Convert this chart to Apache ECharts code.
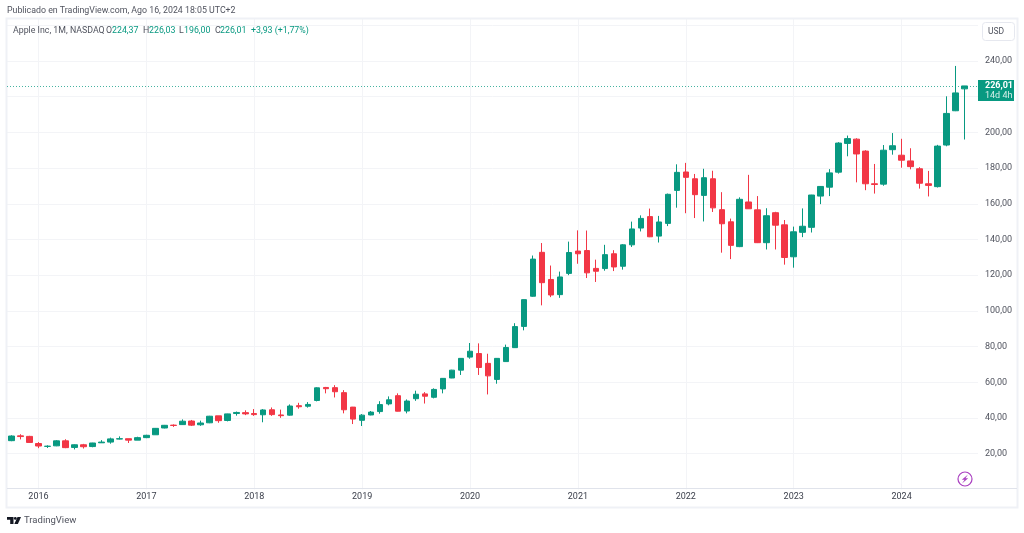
<!DOCTYPE html>
<html>
<head>
<meta charset="utf-8">
<title>Apple Inc, 1M, NASDAQ</title>
<script src="https://cdn.jsdelivr.net/npm/echarts@6/dist/echarts.min.js"></script>
<style>
html,body{margin:0;padding:0;background:#fff;}
#main{width:1024px;height:533px;}
</style>
</head>
<body>
<div id="main"></div>
<script>
var fontName = 'Roboto,sans-serif';
var upColor = '#089981';
var downColor = '#F23645';
// month, open, high, low, close
var rows = [
    ['2015-10',27.3,30.3,27.0,29.9],['2015-11',30.0,30.9,28.0,29.6],['2015-12',29.7,30.0,26.2,26.3],
    ['2016-01',25.7,26.5,23.1,24.3],['2016-02',24.1,24.7,23.2,24.2],['2016-03',24.4,27.6,24.2,27.2],
    ['2016-04',27.2,28.1,23.1,23.4],['2016-05',23.5,25.2,22.4,25.0],['2016-06',25.0,25.5,22.9,23.9],
    ['2016-07',24.0,26.1,23.6,26.0],['2016-08',26.1,27.6,26.0,26.5],['2016-09',26.5,29.0,25.6,28.3],
    ['2016-10',28.2,29.7,28.0,28.4],['2016-11',28.4,28.4,26.0,27.6],['2016-12',27.6,29.5,27.6,29.0],
    ['2017-01',29.0,30.6,28.7,30.3],['2017-02',30.6,34.4,30.6,34.2],['2017-03',34.4,36.1,34.2,35.9],
    ['2017-04',36.0,36.4,35.0,35.8],['2017-05',36.3,39.2,36.1,38.2],['2017-06',38.3,38.9,35.5,36.0],
    ['2017-07',36.2,38.5,35.6,37.2],['2017-08',37.3,41.2,37.1,41.0],['2017-09',41.2,41.2,37.3,38.5],
    ['2017-10',38.6,42.4,38.1,42.3],['2017-11',42.5,43.6,41.3,43.1],['2017-12',43.0,44.3,41.6,42.3],
    ['2018-01',42.5,45.0,41.2,41.9],['2018-02',41.8,45.0,37.6,44.5],['2018-03',44.6,45.9,41.2,41.9],
    ['2018-04',41.7,44.7,40.1,41.3],['2018-05',41.6,47.6,41.3,46.7],['2018-06',46.9,48.5,45.2,46.3],
    ['2018-07',46.6,48.9,45.8,47.6],['2018-08',49.8,57.2,49.3,56.9],['2018-09',57.1,57.4,53.8,56.4],
    ['2018-10',57.0,58.4,51.5,54.7],['2018-11',54.2,55.6,42.6,44.6],['2018-12',46.1,46.2,36.6,39.4],
    ['2019-01',38.7,42.2,35.5,41.6],['2019-02',41.7,43.9,41.5,43.3],['2019-03',43.6,49.4,42.4,47.5],
    ['2019-04',47.9,52.1,47.1,50.2],['2019-05',52.5,53.8,43.7,43.8],['2019-06',43.9,50.4,42.6,49.5],
    ['2019-07',50.8,55.3,49.6,53.3],['2019-08',53.5,54.5,48.1,52.2],['2019-09',51.6,56.6,51.0,56.0],
    ['2019-10',56.3,62.4,53.8,62.2],['2019-11',62.4,67.0,62.3,66.8],['2019-12',66.8,73.5,64.1,73.4],
    ['2020-01',74.1,82.0,73.2,77.4],['2020-02',76.1,81.8,64.1,68.3],['2020-03',70.6,76.0,53.2,63.6],
    ['2020-04',61.6,73.6,59.2,73.4],['2020-05',71.6,81.1,71.5,79.5],['2020-06',79.4,93.1,79.3,91.2],
    ['2020-07',91.3,106.4,89.1,106.3],['2020-08',108.2,131.0,107.9,129.0],['2020-09',132.8,138.0,103.1,115.8],
    ['2020-10',117.6,125.4,107.7,108.9],['2020-11',109.1,122.0,107.3,119.0],['2020-12',121.0,138.8,120.0,132.7],
    ['2021-01',133.5,145.1,126.4,132.0],['2021-02',133.8,145.0,118.4,121.3],['2021-03',123.8,128.7,116.2,122.2],
    ['2021-04',123.7,137.0,122.5,131.5],['2021-05',132.0,134.0,122.3,124.6],['2021-06',125.0,137.4,123.1,137.0],
    ['2021-07',137.0,150.0,135.8,145.9],['2021-08',146.4,153.5,144.5,151.8],['2021-09',152.8,157.3,141.3,141.5],
    ['2021-10',141.9,153.2,138.3,149.8],['2021-11',149.0,165.7,147.5,165.3],['2021-12',167.5,182.1,157.8,177.6],
    ['2022-01',177.8,182.9,154.7,174.8],['2022-02',174.0,176.7,152.0,165.1],['2022-03',164.7,179.6,150.1,174.6],
    ['2022-04',174.0,178.5,155.4,157.7],['2022-05',156.7,166.5,132.6,148.8],['2022-06',149.9,151.7,129.0,136.7],
    ['2022-07',136.0,163.6,135.7,162.5],['2022-08',161.0,176.2,157.1,157.2],['2022-09',156.6,164.3,138.0,138.2],
    ['2022-10',138.2,157.5,134.4,153.3],['2022-11',155.0,155.5,134.4,148.0],['2022-12',148.2,150.9,125.9,129.9],
    ['2023-01',130.3,147.2,124.2,144.3],['2023-02',144.0,157.4,141.3,147.4],['2023-03',146.8,165.0,143.9,164.9],
    ['2023-04',164.3,169.9,159.8,169.7],['2023-05',169.3,179.4,164.3,177.3],['2023-06',177.7,194.5,176.9,194.0],
    ['2023-07',193.8,198.2,186.6,196.5],['2023-08',196.2,196.7,172.0,187.9],['2023-09',189.5,190.0,167.6,171.2],
    ['2023-10',171.2,182.3,165.7,170.8],['2023-11',171.0,192.9,170.1,190.0],['2023-12',190.3,199.6,187.5,192.5],
    ['2024-01',187.2,196.4,180.2,184.4],['2024-02',184.0,191.1,179.3,180.8],['2024-03',179.6,180.5,168.5,171.5],
    ['2024-04',171.2,178.4,164.1,170.3],['2024-05',169.6,193.0,169.1,192.3],['2024-06',192.9,220.2,192.2,210.6],
    ['2024-07',212.1,237.2,211.9,222.1],['2024-08',224.37,226.03,196.0,226.01]
];
var months = [];
var candles = [];
for (var i = 0; i < rows.length; i++) {
    months.push(rows[i][0]);
    // echarts: open, close, low, high
    candles.push([rows[i][1], rows[i][4], rows[i][3], rows[i][2]]);
}
months.push('2024-09'); // empty slot right of the last candle

function isJan(index, value) {
    return value.slice(5) === '01';
}

// O H L C readout in the top row
var legend = [
    [13, 'Apple Inc, 1M, NASDAQ', '#50535e'],
    [106, 'O', '#50535e'], [112, '224,37', upColor],
    [143, 'H', '#50535e'], [149, '226,03', upColor],
    [179, 'L', '#50535e'], [184, '196,00', upColor],
    [215, 'C', '#50535e'], [220, '226,01', upColor],
    [251, '+3,93 (+1,77%)', upColor]
];
var graphics = [
    {type: 'rect', z: 1, shape: {x: 6.5, y: 18.5, width: 1011, height: 489}, style: {fill: 'none', stroke: '#eff1f6', lineWidth: 2}},
    {type: 'line', z: 1, shape: {x1: 7, y1: 488.5, x2: 1017, y2: 488.5}, style: {stroke: '#e0e3eb', lineWidth: 1}},
    {type: 'text', x: 7, y: 6, style: {text: 'Publicado en TradingView.com, Ago 16, 2024 18:05 UTC+2', font: '8.8px ' + fontName, fill: '#50535e'}},
    // USD button
    {type: 'rect', z: 10, shape: {x: 982.5, y: 22.5, width: 32, height: 18, r: 3}, style: {fill: '#fff', stroke: '#e6e8ef', lineWidth: 1}},
    {type: 'text', z: 11, x: 988, y: 27, style: {text: 'USD', font: '8.5px ' + fontName, fill: '#50535e'}},
    // bolt icon
    {type: 'circle', z: 10, shape: {cx: 965, cy: 479, r: 7}, style: {fill: '#fff', stroke: '#a93fc0', lineWidth: 1.2}},
    {type: 'polygon', z: 11, shape: {points: [[968, 474.6], [961.8, 479.8], [964.6, 479.8], [962, 483.4], [968.2, 478.2], [965.4, 478.2]]}, style: {fill: '#a93fc0'}},
    // TradingView mark
    {type: 'polygon', shape: {points: [[7, 517], [13.5, 517], [13.5, 524], [10.2, 524], [10.2, 519.8], [7, 519.8]]}, style: {fill: '#131722'}},
    {type: 'circle', shape: {cx: 15.3, cy: 518.4, r: 1.4}, style: {fill: '#131722'}},
    {type: 'polygon', shape: {points: [[17.5, 517], [21, 517], [17.9, 524], [14.3, 524]]}, style: {fill: '#131722'}},
    {type: 'text', x: 24, y: 516, style: {text: 'TradingView', font: '9.5px ' + fontName, fill: '#50535e'}}
];
for (var k = 0; k < legend.length; k++) {
    graphics.push({type: 'text', z: 5, x: legend[k][0], y: 26, style: {text: legend[k][1], font: '8.8px ' + fontName, fill: legend[k][2]}});
}

var myChart = echarts.init(document.getElementById('main'));
var option = {
    animation: false,
    backgroundColor: '#fff',
    grid: {
        left: 7,
        width: 971,
        top: 19,
        height: 470.4
    },
    xAxis: {
        type: 'category',
        data: months,
        boundaryGap: true,
        axisLine: {show: false},
        axisTick: {show: false},
        axisLabel: {
            interval: isJan,
            formatter: function (v) { return v.slice(0, 4); },
            color: '#3a3e4a',
            fontFamily: fontName,
            fontSize: 9,
            margin: 3
        },
        splitLine: {
            show: true,
            alignWithLabel: true,
            interval: isJan,
            lineStyle: {color: '#f3f4f7', width: 1}
        }
    },
    yAxis: {
        type: 'value',
        position: 'right',
        min: 0,
        max: 263.5,
        interval: 20,
        axisLine: {show: false},
        axisTick: {show: false},
        axisLabel: {
            showMinLabel: false,
            showMaxLabel: false,
            margin: 7,
            color: '#50535e',
            fontFamily: fontName,
            fontSize: 9,
            formatter: function (v) {
                if (v === 260) return '';
                return v.toFixed(2).replace('.', ',');
            }
        },
        splitLine: {
            showMinLine: false,
            showMaxLine: false,
            lineStyle: {color: '#f3f4f7', width: 1}
        }
    },
    series: [
        {
            name: 'AAPL',
            type: 'candlestick',
            barWidth: 6,
            data: candles,
            itemStyle: {
                color: upColor,
                color0: downColor,
                borderColor: upColor,
                borderColor0: downColor,
                borderWidth: 1
            },
            markLine: {
                silent: true,
                symbol: 'none',
                precision: 2,
                data: [{yAxis: 226.01}],
                lineStyle: {color: 'rgba(8,153,129,0.75)', type: [1, 2], width: 1},
                label: {
                    show: true,
                    position: 'end',
                    distance: 0,
                    offset: [0, 4.5],
                    opacity: 1,
                    backgroundColor: upColor,
                    padding: [0, 0, 0, 7],
                    formatter: '{a|226,01}\n{b|14d 4h}',
                    rich: {
                        a: {color: '#fff', width: 29, fontFamily: fontName, fontSize: 9, fontWeight: 'bold', lineHeight: 11},
                        b: {color: '#d6efe9', width: 29, fontFamily: fontName, fontSize: 9, lineHeight: 10}
                    }
                }
            }
        }
    ],
    graphic: graphics
};
myChart.setOption(option);
</script>
</body>
</html>
